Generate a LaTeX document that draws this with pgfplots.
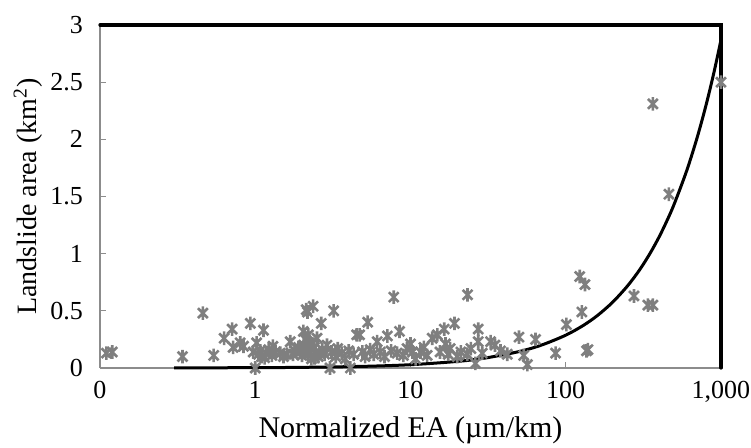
\documentclass[border=0pt]{standalone}
\usepackage{fontspec}
\setmainfont{Liberation Serif}
\usepackage{pgfplots}
\pgfplotsset{compat=1.18}
\definecolor{markgray}{HTML}{7F7F7F}
\definecolor{axisgray}{HTML}{8C8C8C}

% star made of a cross and a vertical bar
\pgfdeclareplotmark{xstar}{%
  \pgfpathmoveto{\pgfqpoint{0pt}{\pgfplotmarksize}}%
  \pgfpathlineto{\pgfqpoint{0pt}{-\pgfplotmarksize}}%
  \pgfpathmoveto{\pgfqpoint{-0.72\pgfplotmarksize}{-0.72\pgfplotmarksize}}%
  \pgfpathlineto{\pgfqpoint{0.72\pgfplotmarksize}{0.72\pgfplotmarksize}}%
  \pgfpathmoveto{\pgfqpoint{-0.72\pgfplotmarksize}{0.72\pgfplotmarksize}}%
  \pgfpathlineto{\pgfqpoint{0.72\pgfplotmarksize}{-0.72\pgfplotmarksize}}%
  \pgfusepathqstroke}

\begin{document}
\begin{tikzpicture}
\begin{axis}[
  at={(0,0)}, anchor=south west,
  scale only axis,
  width=310.5pt, height=171.5pt,
  xmode=log, log basis x=10,
  xmin=0.1, xmax=1000,
  ymin=0, ymax=3,
  axis x line*=bottom, axis y line*=left,
  axis line style={draw=axisgray, line width=1.1pt},
  xtick={0.1,1,10,100,1000},
  xticklabels={0,1,10,100,{1,000}},
  minor x tick num=8,
  ytick={0,0.5,...,3},
  yticklabels={0,0.5,1,1.5,2,2.5,3},
  tick align=inside,
  major tick length=3pt, minor tick length=3pt,
  every tick/.style={draw=axisgray, line width=0.6pt},
  font=\fontsize{13}{15}\selectfont,
  tick label style={font=\fontsize{13}{15}\selectfont},
  /pgf/number format/assume math mode=true,
  xticklabel style={yshift=-3pt},
  yticklabel style={xshift=-5pt},
  xlabel={Normalized EA (µm/km)},
  ylabel={Landslide area (km\textsuperscript{2})},
  xlabel style={font=\fontsize{15}{18}\selectfont, at={(axis description cs:0.5,0)}, anchor=north, yshift=-21pt},
  ylabel style={font=\fontsize{14}{17}\selectfont, at={(axis description cs:0,0.5)}, anchor=south, yshift=25pt},
  clip=false,
]
% observed landslides
\addplot[only marks, mark=xstar, mark size=3.4pt,
  mark options={draw=markgray, line width=1.3pt}] table {
x y
0.11 0.13
0.12 0.14
0.34 0.10
0.46 0.48
0.54 0.11
0.63 0.26
0.71 0.34
0.72 0.18
0.80 0.22
0.84 0.19
0.93 0.39
0.97 0.14
1.00 0.00
1.02 0.22
1.05 0.12
1.08 0.15
1.10 0.10
1.13 0.33
1.15 0.09
1.18 0.13
1.22 0.16
1.28 0.11
1.30 0.19
1.35 0.14
1.45 0.13
1.52 0.10
1.60 0.12
1.68 0.23
1.75 0.12
1.80 0.15
1.90 0.18
1.95 0.14
2.00 0.11
2.04 0.32
2.05 0.20
2.10 0.25
2.13 0.51
2.15 0.17
2.17 0.49
2.20 0.12
2.20 0.29
2.22 0.15
2.25 0.22
2.30 0.08
2.30 0.21
2.36 0.54
2.40 0.18
2.40 0.09
2.45 0.14
2.50 0.26
2.55 0.10
2.60 0.13
2.66 0.39
2.70 0.16
2.80 0.12
2.90 0.20
3.03 0.00
3.10 0.14
3.20 0.50
3.30 0.10
3.40 0.17
3.60 0.13
3.80 0.08
4.00 0.15
4.10 0.00
4.30 0.12
4.50 0.29
4.70 0.29
4.90 0.14
5.10 0.10
5.30 0.40
5.50 0.16
5.80 0.12
6.10 0.23
6.40 0.14
6.80 0.10
7.10 0.28
7.50 0.15
7.80 0.62
8.20 0.13
8.50 0.32
9.00 0.11
9.50 0.17
10.0 0.21
10.3 0.14
10.8 0.08
11.6 0.14
12.2 0.18
12.8 0.11
13.8 0.26
14.9 0.29
15.5 0.14
16.5 0.34
16.8 0.21
17.5 0.12
18.0 0.17
19.2 0.39
20.0 0.10
21.1 0.14
23.2 0.12
23.3 0.64
24.5 0.17
26.2 0.04
27.3 0.34
27.3 0.23
29.0 0.13
32.8 0.23
35.0 0.20
38.0 0.15
42.0 0.12
50.0 0.27
53.6 0.11
56.6 0.03
63.9 0.25
86.0 0.13
101 0.38
123 0.80
127 0.49
133 0.73
136 0.15
139 0.16
275 0.63
338 0.55
364 0.55
364 2.31
462 1.52
1000 2.50
};
% fitted relation
\addplot[black, line width=1.5pt, smooth] coordinates {
(0.3,0.0009) (1,0.0029) (2,0.0057) (5,0.0144) (10,0.0287) (20,0.0574)
(30,0.0861) (50,0.1435) (70,0.201) (100,0.287) (130,0.373) (160,0.459)
(200,0.574) (250,0.718) (300,0.861) (350,1.005) (400,1.148) (450,1.292)
(500,1.435) (600,1.722) (700,2.009) (800,2.296) (900,2.583) (1000,2.87)
};
% top and right frame
\draw[black, line width=1.6pt, line cap=round]
  (rel axis cs:0,1) -- (rel axis cs:1,1) -- (rel axis cs:1,0);
\end{axis}
\pgfresetboundingbox
\path[use as bounding box] (-50pt,-40pt) rectangle (325.5pt,184pt);
\end{tikzpicture}
\end{document}
